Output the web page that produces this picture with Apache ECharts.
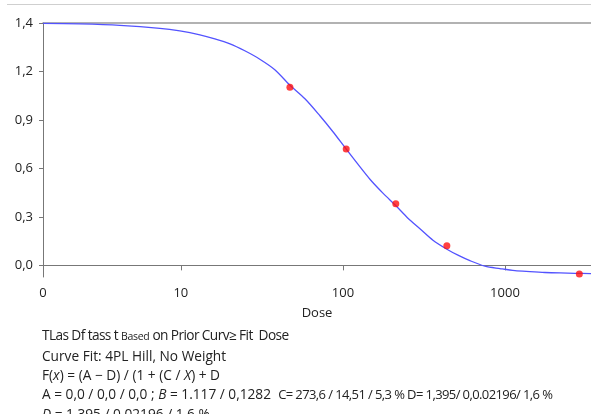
<!DOCTYPE html>
<html>
<head>
<meta charset="utf-8">
<script src="https://cdn.jsdelivr.net/npm/echarts@6/dist/echarts.min.js"></script>
<style>
  html, body { margin: 0; padding: 0; background: #fff; }
  #wrap { position: relative; width: 591px; height: 414px; overflow: hidden; }
  #main { position: absolute; left: 0; top: 0; width: 591px; height: 414px; }
  #topline { position: absolute; left: 7px; right: 0; top: 4px; border-top: 1px solid #cfcfcf; }
  #notes {
    position: absolute; left: 42px; top: 325px;
    font-family: "Open Sans", "Noto Sans", sans-serif; font-size: 13.7px;
    line-height: 19px; color: #222; white-space: pre;
  }
  #notes .l1 { letter-spacing: -0.6px; }
  #notes .sm { font-size: 10.5px; letter-spacing: -0.3px; }
  #notes .cpart { font-size: 13px; letter-spacing: -0.6px; }
</style>
</head>
<body>
<div id="wrap">
  <div id="main"></div>
  <div id="topline"></div>
  <div id="notes"><div class="l1">TLas Df tass t <span class="sm">Based</span> on Prior Curv≥ Fit  Dose</div><div>Curve Fit: 4PL Hill, No Weight</div><div>F(<i>x</i>) = (A − D) / (1 + (C / <i>X</i>) + D</div><div>A = 0,0 / 0,0 / 0,0 ; <i>B</i> = 1.117 / 0,1282  <span class="cpart">C= 273,6 / 14,51 / 5,3 % D= 1,395/ 0,0.02196/ 1,6 %</span></div><div><i>D</i> = 1,395 / 0,02196 / 1,6 %</div></div>
</div>
<script>
// measured points (dose, response)
var pointDose = [47.1, 104.8, 212, 438, 2877];
var pointResp = [1.102, 0.720, 0.382, 0.122, -0.053];

// fitted curve
var curveDose = [1.41, 2.38, 4.2, 7.42, 9.86, 13.1, 16.2, 20.1, 24.8, 30.7, 38.0, 47.1, 58.3, 72.1, 86.8,
  104.3, 123.7, 146.8, 176.6, 212.4, 251.9, 298.8, 359.4, 438.5, 512.8, 608, 752.4, 931, 1153, 1427, 1766, 2186, 2704, 3396];
var curveResp = [1.498, 1.494, 1.485, 1.467, 1.451, 1.427, 1.402, 1.371, 1.328, 1.276, 1.211, 1.115, 1.031, 0.926, 0.827,
  0.722, 0.626, 0.533, 0.447, 0.369, 0.292, 0.227, 0.156, 0.100, 0.063, 0.029, -0.005, -0.020, -0.033, -0.039, -0.044, -0.047, -0.049, -0.051];

// ticks
var xTickValues = [1.41, 10, 100, 1000];
var xTickLabels = ["0", "10", "100", "1000"];
var yTickValues = [0, 0.3, 0.6, 0.9, 1.2, 1.5];
var yTickLabels = ["0,0", "0,3", "0,6", "0,9", "1,2", "1,4"];

var xMin = 1.41, xMax = 3396;

function pick(vals, labels, v) {
  var best = 0;
  for (var i = 1; i < vals.length; i++) {
    if (Math.abs(Math.log(vals[i]) - Math.log(v)) < Math.abs(Math.log(vals[best]) - Math.log(v))) best = i;
  }
  return labels[best];
}

var chart = echarts.init(document.getElementById("main"));
var font = '"Open Sans", "Noto Sans", sans-serif';

chart.setOption({
  animation: false,
  textStyle: { fontFamily: font },
  grid: { left: 43, right: 0, top: 23, bottom: 137 },
  xAxis: [
    {
      type: "log",
      min: xMin,
      max: xMax,
      name: "Dose",
      nameLocation: "middle",
      nameGap: 30,
      nameTextStyle: { color: "#222", fontSize: 13, fontFamily: font },
      axisLine: { lineStyle: { color: "#777", width: 1 } },
      axisTick: { show: true, length: 5, customValues: [10, 100, 1000], lineStyle: { color: "#777" } },
      axisLabel: {
        color: "#222", fontSize: 13, margin: 10,
        customValues: xTickValues,
        formatter: function (v) { return pick(xTickValues, xTickLabels, v); }
      },
      splitLine: { show: false },
      minorTick: { show: false }
    },
    {
      type: "log",
      position: "top",
      min: xMin,
      max: xMax,
      axisLine: { lineStyle: { color: "#999", width: 1.5 } },
      axisTick: { show: false },
      axisLabel: { show: false },
      splitLine: { show: false }
    }
  ],
  yAxis: {
    type: "value",
    min: -0.072,
    max: 1.5,
    axisLine: { show: true, lineStyle: { color: "#777", width: 1 } },
    axisTick: { show: true, length: 4, customValues: yTickValues, lineStyle: { color: "#777" } },
    axisLabel: {
      color: "#222", fontSize: 13, margin: 10,
      customValues: yTickValues,
      formatter: function (v) {
        for (var i = 0; i < yTickValues.length; i++) {
          if (Math.abs(yTickValues[i] - v) < 1e-6) return yTickLabels[i];
        }
        return "";
      }
    },
    splitLine: { show: false }
  },
  series: [
    {
      name: "fit",
      type: "line",
      smooth: 0.3,
      showSymbol: false,
      data: curveDose.map(function (d, i) { return [d, curveResp[i]]; }),
      lineStyle: { color: "#5353ff", width: 1.3 },
      z: 3
    },
    {
      name: "points",
      type: "scatter",
      symbolSize: 7,
      data: pointDose.map(function (d, i) { return [d, pointResp[i]]; }),
      itemStyle: { color: "#ff1010" },
      z: 4
    }
  ]
});
</script>
</body>
</html>
